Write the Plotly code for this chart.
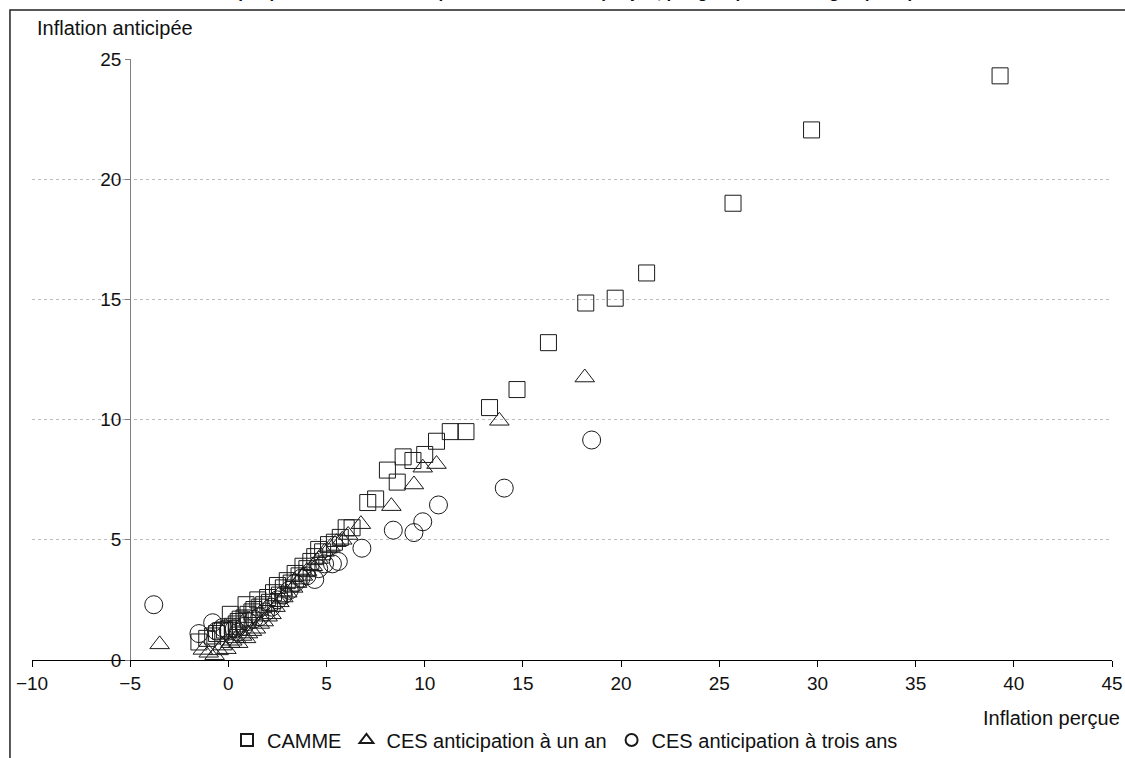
import plotly.graph_objects as go

# CAMME (squares)
camme_x = [-1.5, -1.1, -0.8, -0.6, -0.4, -0.2, 0.0, 0.1, 0.2, 0.4, 0.5, 0.6, 0.8, 0.9, 1.0, 1.2, 1.3,
           1.5, 1.6, 1.8, 2.0, 2.1, 2.3, 2.5, 2.6, 2.8, 3.0, 3.2, 3.4, 3.6, 3.8, 4.0, 4.2, 4.4, 4.6,
           4.8, 5.1, 5.4, 5.7, 6.0, 6.3, 7.1, 7.5, 8.1, 8.6, 8.9, 9.4, 10.0, 10.6, 11.3, 12.1, 13.3,
           14.7, 16.3, 18.2, 19.7, 21.3, 25.7, 29.7, 39.3]
camme_y = [0.75, 0.9, 1.0, 1.1, 1.2, 1.25, 1.3, 1.9, 1.4, 1.5, 1.6, 1.7, 1.75, 2.3, 1.9, 2.0, 2.1,
           2.5, 2.2, 2.3, 2.6, 2.4, 2.8, 3.1, 2.7, 3.0, 3.3, 3.2, 3.6, 3.5, 3.9, 3.8, 4.1, 4.3, 4.6,
           4.5, 4.8, 4.9, 5.1, 5.5, 5.5, 6.55, 6.7, 7.9, 7.4, 8.45, 8.3, 8.55, 9.1, 9.5, 9.5, 10.5,
           11.25, 13.2, 14.85, 15.05, 16.1, 19.0, 22.05, 24.3]

# CES one-year-ahead (triangles)
ces1_x = [-3.5, -1.3, -1.0, -0.7, -0.5, -0.3, -0.1, 0.1, 0.2, 0.4, 0.5, 0.7, 0.9, 1.0, 1.2, 1.4, 1.6,
          1.8, 2.0, 2.2, 2.4, 2.6, 2.8, 3.0, 3.3, 3.5, 3.8, 4.0, 4.3, 4.6, 4.9, 5.2, 5.5, 5.8, 6.1,
          6.75, 8.3, 9.45, 9.9, 10.6, 13.8, 18.15]
ces1_y = [0.65, 0.42, 0.3, 0.2, 0.4, 0.6, 0.45, 0.7, 0.8, 0.9, 0.7, 1.0, 0.9, 1.1, 1.2, 1.3, 1.5,
          1.6, 1.8, 1.9, 2.2, 2.4, 2.6, 2.8, 3.0, 3.2, 3.5, 3.7, 3.9, 4.2, 4.5, 4.7, 4.9, 5.0, 5.2,
          5.65, 6.4, 7.3, 8.0, 8.15, 9.95, 11.75]

# CES three-year-ahead (circles)
ces3_x = [-3.8, -1.5, -0.8, -0.3, -0.6, 0.0, 0.3, 0.5, 0.8, 1.0, 1.3, 1.6, 1.9, 2.2, 2.5, 2.8, 3.1,
          3.4, 3.7, 4.0, 4.4, 4.6, 4.9, 5.3, 5.6, 6.8, 8.4, 9.45, 9.9, 10.7, 14.05, 18.5]
ces3_y = [2.3, 1.1, 1.55, 1.35, 1.2, 1.2, 1.3, 1.15, 1.4, 1.6, 1.7, 1.8, 2.0, 2.2, 2.5, 2.7, 2.9,
          3.2, 3.4, 3.5, 3.35, 3.8, 4.0, 4.0, 4.1, 4.65, 5.4, 5.3, 5.75, 6.45, 7.15, 9.15]

x_ticks = [-10, -5, 0, 5, 10, 15, 20, 25, 30, 35, 40, 45]
y_ticks = [0, 5, 10, 15, 20, 25]

FONT = "Liberation Sans, Arial, sans-serif"
LINE = dict(color="#1a1a1a", width=1)

fig = go.Figure()
fig.add_trace(go.Scatter(x=camme_x, y=camme_y, mode="markers", name="CAMME",
                         marker=dict(symbol="square-open", size=16, line=LINE, color="#1a1a1a"),
                         cliponaxis=False))
fig.add_trace(go.Scatter(x=ces1_x, y=ces1_y, mode="markers", name="CES anticipation à un an",
                         marker=dict(symbol="triangle-up-open", size=17, line=LINE, color="#1a1a1a"),
                         cliponaxis=False))
fig.add_trace(go.Scatter(x=ces3_x, y=ces3_y, mode="markers", name="CES anticipation à trois ans",
                         marker=dict(symbol="circle-open", size=18, line=LINE, color="#1a1a1a"),
                         cliponaxis=False))

fig.update_layout(
    width=1125, height=758,
    margin=dict(l=32, r=13, t=59, b=98, autoexpand=False),
    paper_bgcolor="white", plot_bgcolor="white",
    font=dict(family=FONT, size=19, color="#111111"),
    showlegend=True,
    legend=dict(orientation="h", x=0.4935, xanchor="center", y=-0.133, yanchor="middle",
                font=dict(size=20), itemsizing="constant", bgcolor="rgba(0,0,0,0)",
                itemwidth=30, tracegroupgap=0),
    xaxis=dict(range=[-10, 45], tickvals=x_ticks, ticktext=[str(v).replace("-", "\u2212") for v in x_ticks],
               showgrid=False, zeroline=False, showline=True, linecolor="#000000", linewidth=1,
               ticks="outside", ticklen=6, tickcolor="#000000", domain=[0, 1]),
    yaxis=dict(range=[0, 25], tickvals=y_ticks, showgrid=True, gridcolor="#bdbdbd", griddash="dot",
               gridwidth=1, zeroline=False, showline=True, linecolor="#808080", linewidth=1,
               ticks="outside", ticklen=5, tickcolor="#808080",
               anchor="free", position=5 / 55, domain=[0, 1]),
    annotations=[
        dict(text="Inflation anticipée", xref="paper", yref="paper", x=0.0028, y=1.0516,
             xanchor="left", yanchor="middle", showarrow=False, font=dict(size=20)),
        dict(text="Inflation perçue", xref="paper", yref="paper", x=1.009, y=-0.0965,
             xanchor="right", yanchor="middle", showarrow=False, font=dict(size=20)),
        dict(text="<b>Graphique 3 : Inflation anticipée selon l'inflation perçue, par groupe de ménages (en %)</b>",
             xref="paper", yref="paper", x=0.49, y=1.0935, xanchor="center", yanchor="bottom",
             showarrow=False, borderpad=0, font=dict(size=17)),
    ],
    shapes=[
        dict(type="rect", xref="paper", yref="paper", x0=-0.0204, x1=1.2, y0=-0.5, y1=1.0815,
             line=dict(color="#222222", width=1.5), fillcolor="rgba(0,0,0,0)", layer="below"),
    ],
)

fig.write_html("out.html")
